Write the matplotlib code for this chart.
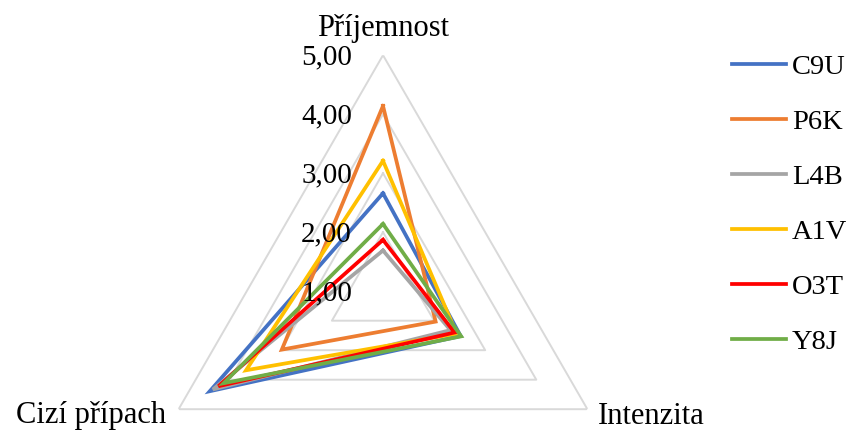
import numpy as np
from matplotlib import pyplot as plt

# data
categories = ['Příjemnost', 'Intenzita', 'Cizí přípach']
series_names = ['C9U', 'P6K', 'L4B', 'A1V', 'O3T', 'Y8J']
c9u = [2.66, 2.52, 4.39]
p6k = [4.14, 2.03, 2.98]
l4b = [1.69, 2.32, 4.33]
a1v = [3.21, 2.44, 3.68]
o3t = [1.87, 2.40, 4.22]
y8j = [2.14, 2.53, 4.12]
ticks = [1, 2, 3, 4, 5]
tick_labels = ['1,00', '2,00', '3,00', '4,00', '5,00']

colors = ['#4472C4', '#ED7D31', '#A5A5A5', '#FFC000', '#FF0000', '#70AD47']

plt.rcParams['font.family'] = ['Liberation Serif', 'DejaVu Serif']

fig = plt.figure(figsize=(8.48, 4.30), dpi=100)
W, H = 848, 430
cx, cy, R = 383, 291.2, 236
ax = fig.add_axes([(cx - R) / W, (H - cy - R) / H, 2 * R / W, 2 * R / H],
                  projection='polar')
ax.set_theta_offset(np.pi / 2)
ax.set_theta_direction(-1)
ax.set_ylim(1, 5)
ax.grid(False)
ax.spines['polar'].set_visible(False)
ax.set_xticks([])
ax.set_yticks([])
ax.patch.set_alpha(0)

angles = np.linspace(0, 2 * np.pi, len(categories), endpoint=False)
closed = np.append(angles, angles[0])

# triangular gridlines
for t in ticks[1:]:
    ax.plot(closed, [t] * len(closed), color='#D9D9D9', lw=1.4, zorder=1)

# series
all_vals = [c9u, p6k, l4b, a1v, o3t, y8j]
for name, vals, col in zip(series_names, all_vals, colors):
    ax.plot(closed, vals + vals[:1], color=col, lw=2.7, label=name,
            solid_joinstyle='miter', zorder=3)

# radial tick labels (drawn over the lines, as in the original)
for t, lab in zip(ticks, tick_labels):
    ax.annotate(lab, xy=(0, t), xytext=(-31, -2), textcoords='offset pixels',
                ha='right', va='center', fontsize=21, zorder=5)

# category labels
ax.annotate(categories[0], xy=(angles[0], 5), xytext=(0, 19),
            textcoords='offset pixels', ha='center', va='baseline', fontsize=22)
ax.annotate(categories[1], xy=(angles[1], 5), xytext=(10, -15),
            textcoords='offset pixels', ha='left', va='baseline', fontsize=22)
ax.annotate(categories[2], xy=(angles[2], 5), xytext=(-12, -14),
            textcoords='offset pixels', ha='right', va='baseline', fontsize=22)

fig.legend(loc='upper left', bbox_to_anchor=(732 / W, 0.875), frameon=False,
           fontsize=20.5, handlelength=1.9, handletextpad=0.2,
           labelspacing=1.02, borderpad=0, borderaxespad=0)

fig.savefig('out.png', dpi=100)
